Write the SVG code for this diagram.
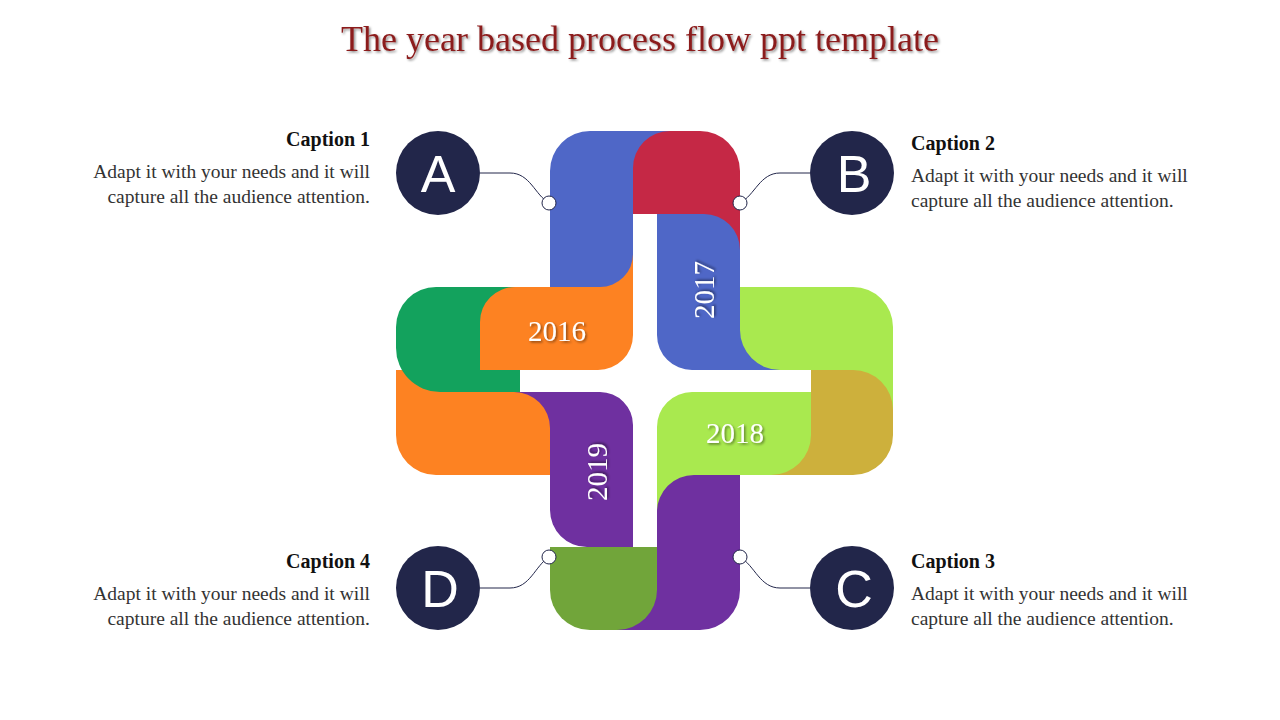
<svg xmlns="http://www.w3.org/2000/svg" width="1280" height="720" viewBox="0 0 1280 720">
<defs>
<filter id="sh" x="-20%" y="-20%" width="140%" height="140%"><feDropShadow dx="1.5" dy="1.5" stdDeviation="1" flood-color="#000" flood-opacity="0.45"/></filter>
<style>
.yr{font-family:"Liberation Serif",serif;font-size:29px;fill:#fff;text-anchor:middle;filter:url(#sh)}
.cap{font-family:"Liberation Serif",serif;font-size:20px;font-weight:bold;fill:#111}
.body{font-family:"Liberation Serif",serif;font-size:19.5px;fill:#333}
.lt{font-family:"Liberation Sans",Arial,sans-serif;font-size:52px;fill:#fff;text-anchor:middle}
.bc{fill:#22264a}
.dot{fill:#fff;stroke:#22264a;stroke-width:1}
.ln{fill:none;stroke:#22264a;stroke-width:1}
</style>
</defs>
<rect width="1280" height="720" fill="#fff"/>
<text x="640" y="51" text-anchor="middle" font-family="'Liberation Serif',serif" font-size="36" fill="#8b1a1a" filter="url(#sh)">The year based process flow ppt template</text>
<g id="shape">
<path fill="#4f67c7" d="M550,287 V171 A40,40 0 0 1 590,131 H690 V214 H633 V287 Z"/>
<path fill="#4f67c7" d="M657,214 H740 V287 H780 V370 H692 A35,35 0 0 1 657,335 Z"/>
<path fill="#c52845" d="M633,214 V168 A37,37 0 0 1 670,131 H700 A40,40 0 0 1 740,171 V250 A36,36 0 0 0 704,214 Z"/>
<path fill="#a9e94f" d="M740,287 H853 A40,40 0 0 1 893,327 V420 H811 V370 H780 A40,40 0 0 1 740,330 Z"/>
<path fill="#cdb03c" d="M811,370 H853 A40,40 0 0 1 893,410 V435 A40,40 0 0 1 853,475 H770 V392 H811 Z"/>
<path fill="#a9e94f" d="M657,515 V427 A35,35 0 0 1 692,392 H811 V435 A40,40 0 0 1 771,475 H700 V515 Z"/>
<path fill="#6f30a0" d="M657,512 A37,37 0 0 1 694,475 H740 V590 A40,40 0 0 1 700,630 H600 V547 H657 Z"/>
<path fill="#71a53a" d="M550,547 H657 V590 A40,40 0 0 1 617,630 H590 A40,40 0 0 1 550,590 Z"/>
<path fill="#6f30a0" d="M514,392 H600 A33,33 0 0 1 633,425 V547 H587 A37,37 0 0 1 550,510 V475 H514 Z"/>
<path fill="#fd8222" d="M396,370 H480 V392 H514 A36,36 0 0 1 550,428 V475 H436 A40,40 0 0 1 396,435 Z"/>
<path fill="#13a25d" d="M396,327 A40,40 0 0 1 436,287 H520 V392 H440 A44,44 0 0 1 396,348 Z"/>
<path fill="#fd8222" d="M480,370 V322 A35,35 0 0 1 515,287 H600 A33,33 0 0 0 633,254 V335 A35,35 0 0 1 598,370 Z"/>
<text class="yr" x="557" y="341">2016</text>
<text class="yr" transform="translate(714,290) rotate(-90)">2017</text>
<text class="yr" x="735" y="443">2018</text>
<text class="yr" transform="translate(607,472) rotate(-90)">2019</text>
</g>
<g id="connectors">
<path class="ln" d="M480,173 H510 C530,173 535,195 549,203"/>
<path class="ln" d="M810,173 H780 C760,173 755,195 740,203"/>
<path class="ln" d="M810,588 H780 C760,588 755,566 740,557"/>
<path class="ln" d="M480,588 H510 C530,588 535,566 549,557"/>
<circle class="dot" cx="549" cy="203" r="7"/>
<circle class="dot" cx="740" cy="203" r="7"/>
<circle class="dot" cx="740" cy="557" r="7"/>
<circle class="dot" cx="549" cy="557" r="7"/>
</g>
<g id="nodeA"><circle class="bc" cx="438" cy="173" r="42"/><text class="lt" x="438" y="192">A</text>
<text class="cap" x="370" y="146" text-anchor="end">Caption 1</text>
<text class="body" x="370" y="178" text-anchor="end">Adapt it with your needs and it will</text>
<text class="body" x="370" y="203" text-anchor="end">capture all the audience attention.</text></g>
<g id="nodeB"><circle class="bc" cx="852" cy="173" r="42"/><text class="lt" x="854" y="192">B</text>
<text class="cap" x="911" y="150">Caption 2</text>
<text class="body" x="911" y="182">Adapt it with your needs and it will</text>
<text class="body" x="911" y="207">capture all the audience attention.</text></g>
<g id="nodeC"><circle class="bc" cx="852" cy="588" r="42"/><text class="lt" x="854" y="607">C</text>
<text class="cap" x="911" y="568">Caption 3</text>
<text class="body" x="911" y="600">Adapt it with your needs and it will</text>
<text class="body" x="911" y="625">capture all the audience attention.</text></g>
<g id="nodeD"><circle class="bc" cx="438" cy="588" r="42"/><text class="lt" x="440" y="607">D</text>
<text class="cap" x="370" y="568" text-anchor="end">Caption 4</text>
<text class="body" x="370" y="600" text-anchor="end">Adapt it with your needs and it will</text>
<text class="body" x="370" y="625" text-anchor="end">capture all the audience attention.</text></g>
</svg>
